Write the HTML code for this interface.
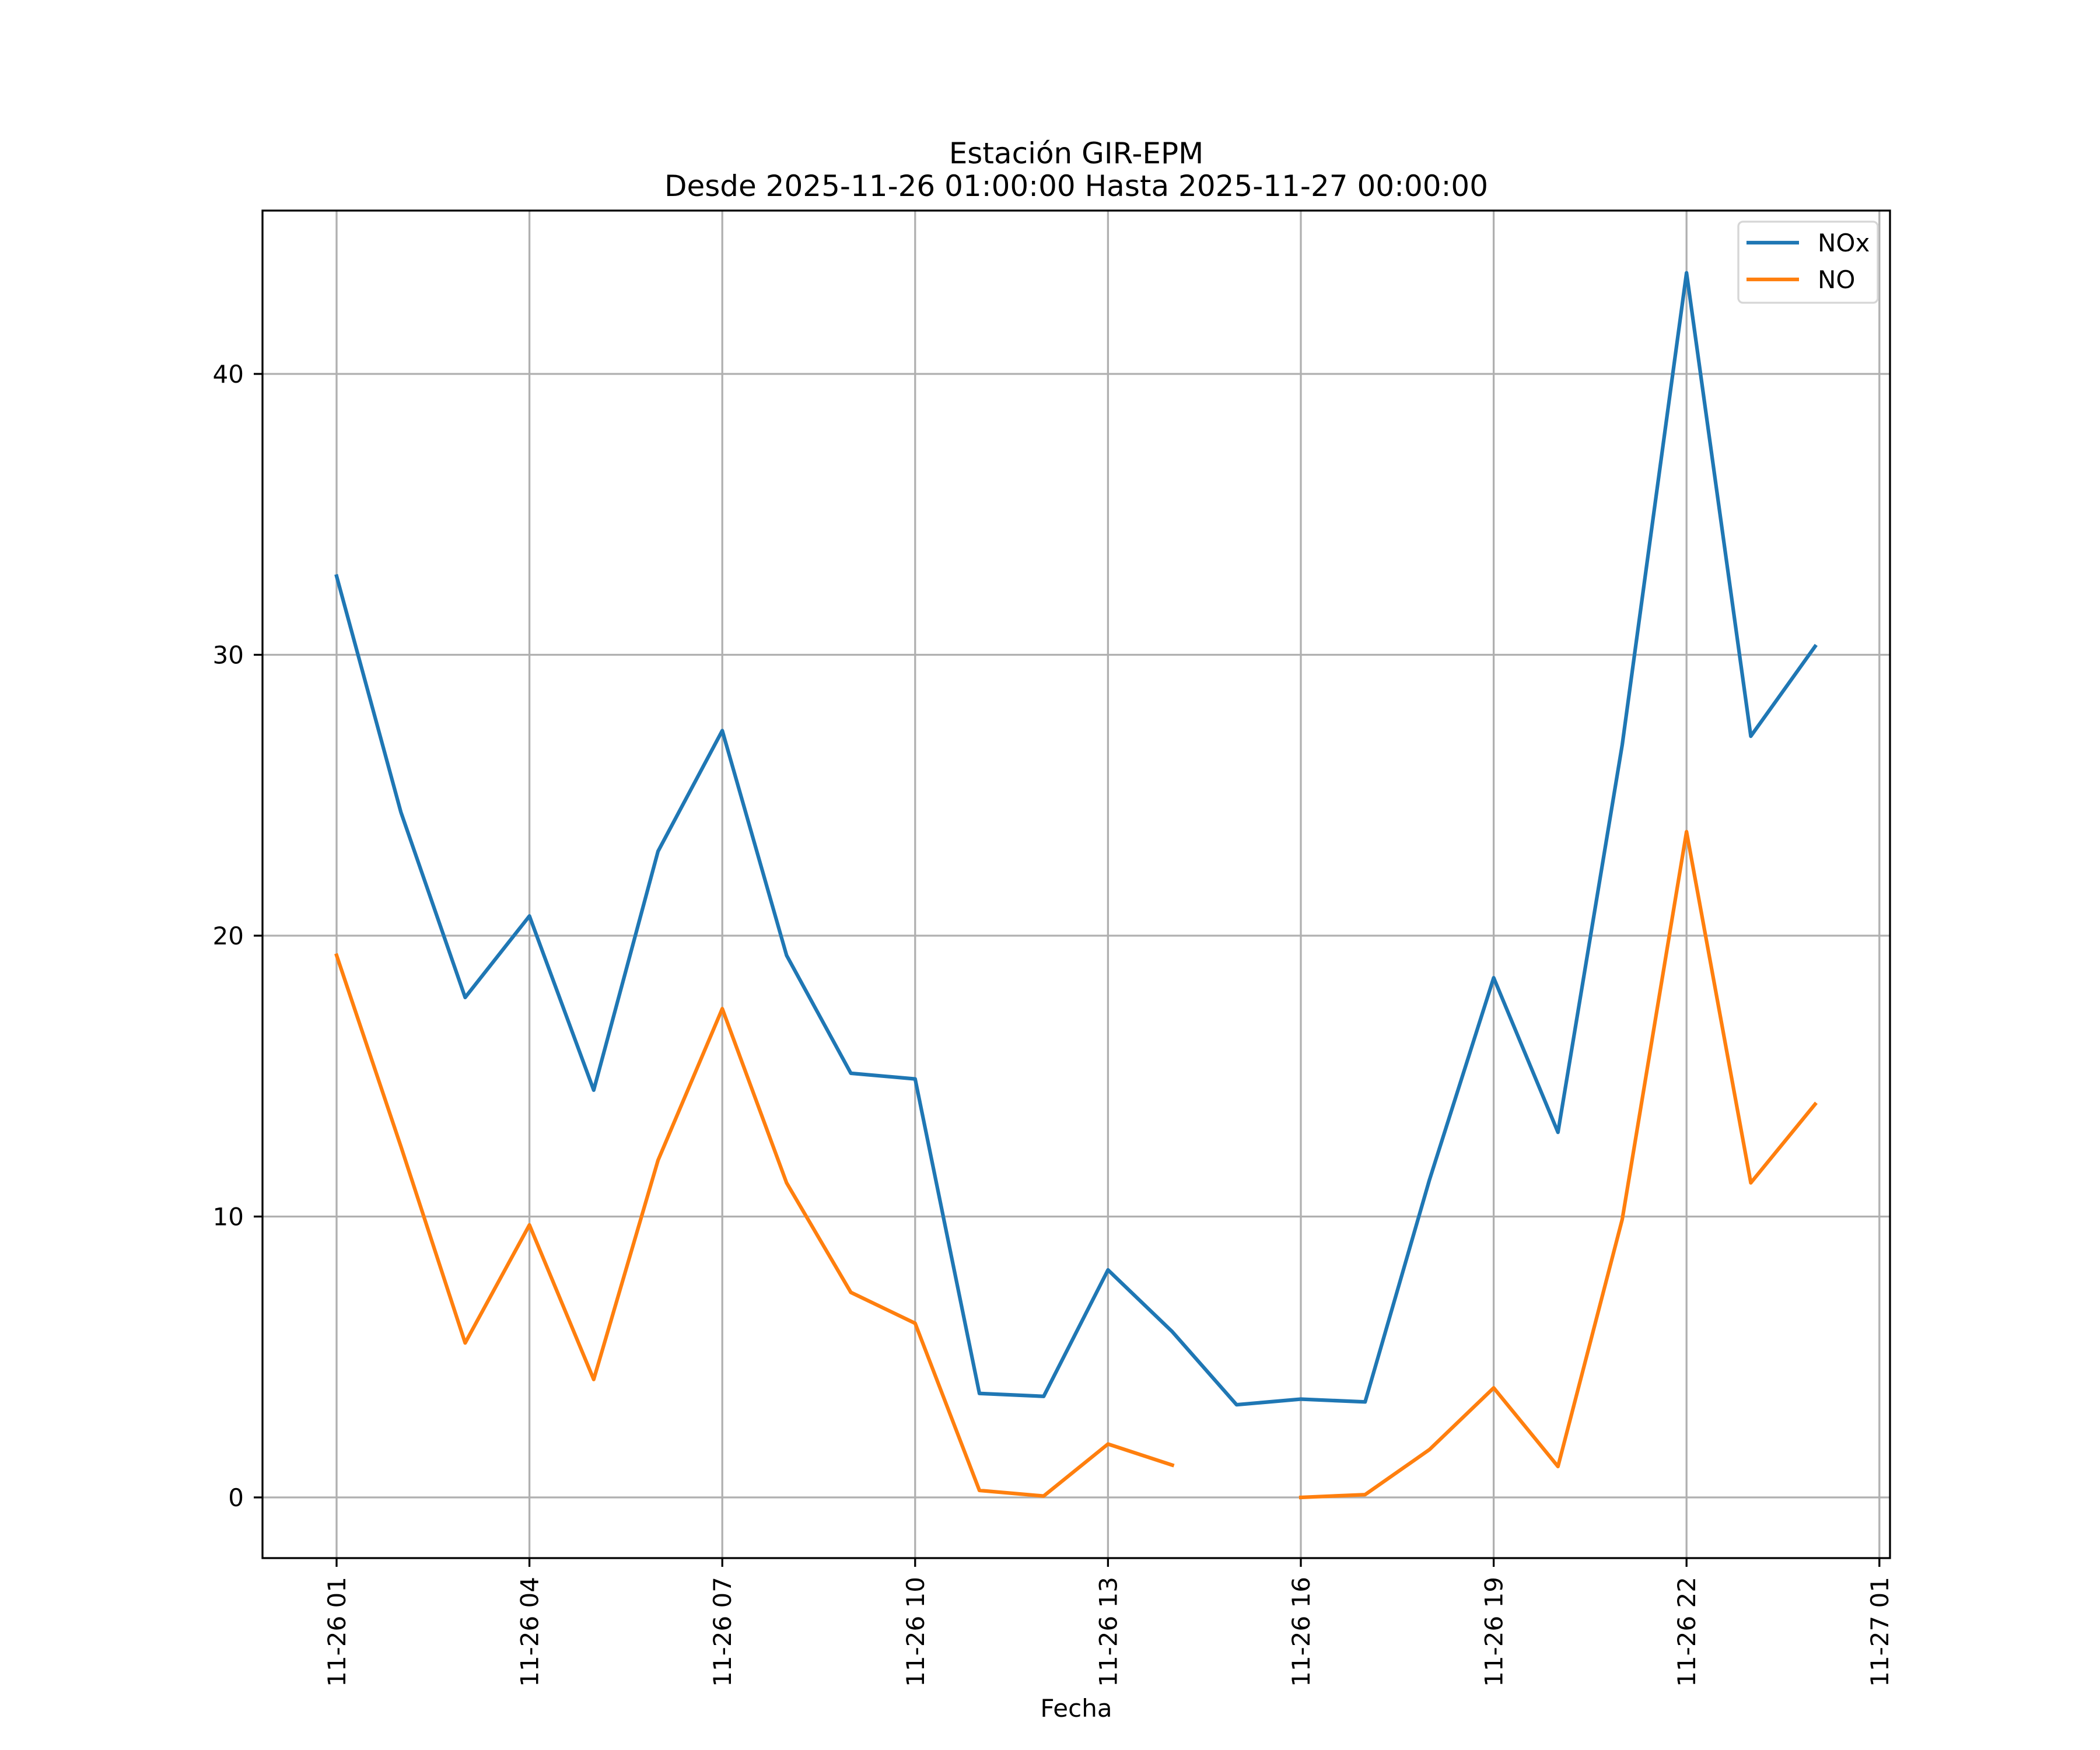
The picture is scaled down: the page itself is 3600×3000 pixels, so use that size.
<!DOCTYPE html>
<html><head><meta charset="utf-8"><style>
html,body{margin:0;padding:0;background:#fff}
svg{display:block}
text{font-family:"DejaVu Sans","Liberation Sans",sans-serif;fill:#000}
</style></head><body>
<svg id="chart" width="3600" height="3000" viewBox="0 0 3600 3000">
<rect x="0" y="0" width="3600" height="3000" fill="#fff"/>
<text x="1845" y="280" font-size="50" text-anchor="middle">Estación GIR-EPM</text>
<text x="1845" y="336" font-size="50" text-anchor="middle">Desde 2025-11-26 01:00:00 Hasta 2025-11-27 00:00:00</text>
<g id="grid"></g>
<g id="series"></g>
<rect x="450" y="361" width="2790" height="2310" fill="none" stroke="#000" stroke-width="3.3"/>
<g id="ticks"></g>
<text x="1845" y="2943" font-size="42" text-anchor="middle">Fecha</text>
<g>
<rect x="2980" y="380" width="239" height="139" rx="8" fill="#fff" fill-opacity="0.8" stroke="#d6d6d6" stroke-width="3.3"/>
<line x1="2994" y1="416" x2="3084" y2="416" stroke="#1f77b4" stroke-width="6.25"/>
<text x="3116" y="431" font-size="42">NOx</text>
<line x1="2994" y1="479" x2="3084" y2="479" stroke="#ff7f0e" stroke-width="6.25"/>
<text x="3116" y="494" font-size="42">NO</text>
</g>
</svg>
<script>
const hours = [1,2,3,4,5,6,7,8,9,10,11,12,13,14,15,16,17,18,19,20,21,22,23,24];
const noxValues = [32.8,24.4,17.8,20.7,14.5,23.0,27.3,19.3,15.1,14.9,3.7,3.6,8.1,5.9,3.3,3.5,3.4,11.3,18.5,13.0,26.8,43.6,27.1,30.3];
const noValues = [19.3,12.5,5.5,9.7,4.2,12.0,17.4,11.2,7.3,6.2,0.25,0.05,1.9,1.15,null,0.0,0.1,1.7,3.9,1.1,9.9,23.7,11.2,14.0];
const xTickHours = [1,4,7,10,13,16,19,22,25];
const xTickLabels = ["11-26 01","11-26 04","11-26 07","11-26 10","11-26 13","11-26 16","11-26 19","11-26 22","11-27 01"];
const yTicks = [0,10,20,30,40];

const NS="http://www.w3.org/2000/svg";
function xs(h){return 577+(h-1)*110.2;}
function ys(v){return 2567-v*48.15;}
function mk(tag,attrs,parent){const e=document.createElementNS(NS,tag);for(const k in attrs)e.setAttribute(k,attrs[k]);parent.appendChild(e);return e;}
const grid=document.getElementById('grid'),ticks=document.getElementById('ticks'),series=document.getElementById('series');
xTickHours.forEach((h,i)=>{
  const x=xs(h);
  const g=mk('line',{x1:x,x2:x,y1:361,y2:2671,stroke:'#b0b0b0','stroke-width':3.3},grid);
  
  
  const t=mk('line',{x1:x,x2:x,y1:2671,y2:2686,stroke:'#000','stroke-width':3.3},ticks);
  
  
  const l=mk('text',{x:0,y:0,'font-size':42,'text-anchor':'end',transform:`translate(${x+15},2703) rotate(-90)`},ticks);
  l.textContent=xTickLabels[i];
  
  
});
yTicks.forEach(v=>{
  const y=ys(v);
  const g=mk('line',{x1:450,x2:3240,y1:y,y2:y,stroke:'#b0b0b0','stroke-width':3.3},grid);
  
  
  const t=mk('line',{x1:435,x2:450,y1:y,y2:y,stroke:'#000','stroke-width':3.3},ticks);
  
  
  const l=mk('text',{x:418,y:y+15,'font-size':42,'text-anchor':'end'},ticks);
  l.textContent=String(v);
  
  
});
function drawSeries(vals,color,name){
  let d='',pen=false;
  vals.forEach((v,i)=>{
    if(v===null){pen=false;return;}
    d+=(pen?'L':'M')+xs(hours[i]).toFixed(1)+','+ys(v).toFixed(1);
    pen=true;
  });
  const p=mk('path',{d:d,fill:'none',stroke:color,'stroke-width':6.25,'stroke-linejoin':'round','stroke-linecap':'square'},series);
  
  
}
drawSeries(noxValues,'#1f77b4','nox-line');
drawSeries(noValues,'#ff7f0e','no-line');
</script>
</body></html>
